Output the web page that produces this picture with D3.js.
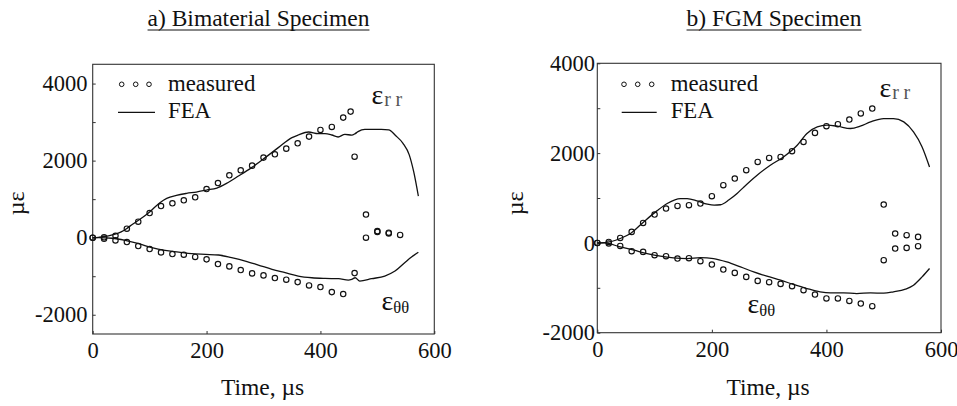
<!DOCTYPE html>
<html>
<head>
<meta charset="utf-8">
<script src="https://cdn.jsdelivr.net/npm/d3@7"></script>
<style>
  html, body { margin: 0; padding: 0; background: #fff; }
  svg { display: block; }
</style>
</head>
<body>
<svg id="chart" width="957" height="406"></svg>
<script>
// ---------------- DATA ----------------
// Panel a) Bimaterial specimen
const titleA = "a) Bimaterial Specimen";
const timeMeasA = [0,20,40,60,80,100,120,140,160,180,200,220,240,260,280,300,320,340,360,380,400,420,440,453,460];
const errMeasA  = [0,10,50,234,415,640,822,892,969,1047,1263,1419,1618,1748,1870,2078,2164,2311,2449,2623,2795,2873,3116,3272,2103];
const timeEthMeasA = [0,20,40,60,80,100,120,140,160,180,200,220,240,260,280,300,320,340,360,380,400,420,440,460];
const ethMeasA  = [0,-26,-70,-114,-218,-296,-382,-426,-442,-500,-563,-685,-745,-841,-927,-979,-1049,-1091,-1153,-1239,-1282,-1413,-1464,-920];
const timeAfterA = [480,480,500,500,520,520,540];
const afterMeasA = [600,0,170,150,130,110,70];
const timeFeaErrA = [0,10,20,36,50,60,70,83,100,118,130,147,165,182,200,218,235,256,279,303,326,350,361,379,396,408,420,431,443,455,461,466,478,490,507,520,532,545,556,564,572];
const feaErrA     = [0,10,25,78,150,240,350,476,666,909,1021,1099,1150,1185,1237,1289,1410,1600,1818,2078,2337,2597,2665,2743,2700,2700,2665,2613,2683,2660,2700,2752,2812,2812,2812,2800,2650,2450,2150,1700,1080];
const timeFeaEthA = [0,10,34,57,81,104,127,151,174,198,221,244,268,291,315,338,361,385,408,432,449,455,461,469,490,513,531,548,560,572];
const feaEthA     = [0,0,-15,-70,-156,-260,-330,-374,-416,-433,-450,-520,-607,-711,-823,-910,-996,-1040,-1057,-1065,-1100,-1080,-1040,-1126,-1065,-996,-867,-650,-500,-380];
const yTicksA = [-2000,-1000,0,1000,2000,3000,4000];
const yTickLabelsA = ["-2000","","0","","2000","","4000"];

// Panel b) FGM specimen
const titleB = "b) FGM Specimen";
const timeMeasB = [0,20,40,60,80,100,120,140,160,180,200,220,240,260,280,300,320,340,360,380,400,420,440,460,480];
const errMeasB  = [0,22,111,245,445,632,766,824,840,877,1040,1285,1434,1619,1804,1893,1915,2042,2249,2450,2599,2643,2748,2882,2993];
const ethMeasB  = [0,-13,-67,-185,-200,-274,-296,-348,-341,-408,-482,-593,-668,-757,-846,-875,-913,-964,-1053,-1150,-1238,-1238,-1292,-1350,-1410];
const timeAfterB = [500,500,520,520,540,540,560,560];
const afterMeasB = [855,-385,208,-125,171,-111,134,-74];
const timeFeaErrB = [0,12,40,58,81,104,122,145,157,174,192,204,215,230,244,256,279,302,325,349,366,384,401,419,442,459,477,500,517,535,552,567,580];
const feaErrB     = [0,5,98,209,468,713,877,988,985,935,862,840,850,960,1100,1247,1508,1730,1915,2176,2436,2583,2621,2599,2548,2599,2695,2770,2770,2695,2472,2138,1690];
const timeFeaEthB = [0,12,40,64,87,110,133,157,180,203,226,250,273,296,320,343,366,389,407,430,453,477,500,517,538,552,567,580];
const feaEthB     = [0,0,-89,-163,-237,-296,-334,-348,-326,-348,-423,-534,-646,-742,-831,-927,-1016,-1090,-1113,-1113,-1128,-1113,-1120,-1090,-1030,-942,-757,-570];
const yTicksB = [-2000,-1000,0,1000,2000,3000,4000];
const yTickLabelsB = ["-2000","","0","","2000","","4000"];

const xTicks = [0,200,400,600];
const xTickLabels = ["0","200","400","600"];
const xLabel = "Time, \u00b5s";
const yLabel = "\u00b5\u03b5";
const legendLabels = ["measured","FEA"];

// ---------------- DRAW ----------------
const serif = "'Liberation Serif','Times New Roman',serif";
const svg = d3.select("#chart");

const panels = [
  { title: titleA, titleX: 258.5, x0: 92.7, x1: 434.3, y0: 64.3, y1: 334, yDom: [-2500, 4500],
    tMeas: timeMeasA, err: errMeasA, tEth: timeEthMeasA, eth: ethMeasA, tAfter: timeAfterA, after: afterMeasA,
    tFeaErr: timeFeaErrA, feaErr: feaErrA, tFeaEth: timeFeaEthA, feaEth: feaEthA,
    yTicks: yTicksA, yTickLabels: yTickLabelsA, yPad: 5.2,
    ylabX: 24, xlabX: 262.5,
    leg: { c: [121.7, 135.7, 149], tx: 168, l0: 118, l1: 155 },
    rr: { x: 371.5, y: 104 }, th: { x: 381.5, y: 310 } },
  { title: titleB, titleX: 774, x0: 597.3, x1: 941, y0: 63.3, y1: 332.7, yDom: [-2000, 4000],
    tMeas: timeMeasB, err: errMeasB, tEth: timeMeasB, eth: ethMeasB, tAfter: timeAfterB, after: afterMeasB,
    tFeaErr: timeFeaErrB, feaErr: feaErrB, tFeaEth: timeFeaEthB, feaEth: feaEthB,
    yTicks: yTicksB, yTickLabels: yTickLabelsB, yPad: 2.3,
    ylabX: 522.5, xlabX: 768,
    leg: { c: [624, 637.7, 651.7], tx: 670.7, l0: 621.7, l1: 656.7 },
    rr: { x: 879.5, y: 96.5 }, th: { x: 747.5, y: 313 } }
];

panels.forEach(p => {
  const x = d3.scaleLinear().domain([0, 600]).range([p.x0, p.x1]);
  const y = d3.scaleLinear().domain(p.yDom).range([p.y1, p.y0]);
  const g = svg.append("g");

  // title with underline
  const t = g.append("text").attr("x", p.titleX).attr("y", 25.5)
    .attr("text-anchor", "middle").attr("font-family", serif).attr("font-size", 23.5)
    .attr("fill", "#111").text(p.title);
  const tw = t.node().getComputedTextLength();
  g.append("line").attr("x1", p.titleX - tw / 2).attr("x2", p.titleX + tw / 2)
    .attr("y1", 30).attr("y2", 30).attr("stroke", "#111").attr("stroke-width", 1.1);

  // frame
  g.append("rect").attr("x", p.x0).attr("y", p.y0).attr("width", p.x1 - p.x0).attr("height", p.y1 - p.y0)
    .attr("fill", "none").attr("stroke", "#333").attr("stroke-width", 1.1);

  // y axis (inside ticks)
  const ya = g.append("g").attr("transform", `translate(${p.x0},0)`)
    .call(d3.axisLeft(y).tickValues(p.yTicks).tickSizeInner(-3).tickSizeOuter(0).tickPadding(p.yPad)
      .tickFormat((d, i) => p.yTickLabels[i]));
  ya.select(".domain").remove();
  ya.selectAll("line").attr("stroke", "#333");
  ya.selectAll("text").attr("font-family", serif).attr("font-size", 22.5).attr("fill", "#111");

  // x axis
  const xa = g.append("g").attr("transform", `translate(0,${p.y1})`)
    .call(d3.axisBottom(x).tickValues(xTicks).tickSizeInner(-3).tickSizeOuter(0).tickPadding(8.5)
      .tickFormat((d, i) => xTickLabels[i]));
  xa.select(".domain").remove();
  xa.selectAll("line").attr("stroke", "#333");
  xa.selectAll("text").attr("font-family", serif).attr("font-size", 22.5).attr("fill", "#111");

  // axis titles
  g.append("text").attr("x", p.xlabX).attr("y", 395).attr("text-anchor", "middle")
    .attr("font-family", serif).attr("font-size", 23.5).attr("fill", "#111").text(xLabel);
  g.append("text").attr("transform", `translate(${p.ylabX},203.3) rotate(-90)`).attr("text-anchor", "middle")
    .attr("font-family", serif).attr("font-size", 24).attr("fill", "#111").text(yLabel);

  // FEA lines
  const line = d3.line().x(d => x(d[0])).y(d => y(d[1])).curve(d3.curveMonotoneX);
  [[p.tFeaErr, p.feaErr], [p.tFeaEth, p.feaEth]].forEach(([ts, vs]) => {
    g.append("path").datum(ts.map((tt, i) => [tt, vs[i]])).attr("d", line)
      .attr("fill", "none").attr("stroke", "#111").attr("stroke-width", 1.3);
  });

  // measured points
  const pts = [];
  p.tMeas.forEach((tt, i) => pts.push([tt, p.err[i]]));
  p.tEth.forEach((tt, i) => pts.push([tt, p.eth[i]]));
  p.tAfter.forEach((tt, i) => pts.push([tt, p.after[i]]));
  g.selectAll("circle.m").data(pts).enter().append("circle").attr("class", "m")
    .attr("cx", d => x(d[0])).attr("cy", d => y(d[1])).attr("r", 2.7)
    .attr("fill", "none").attr("stroke", "#111").attr("stroke-width", 1.15);

  // legend
  p.leg.c.forEach(cx => g.append("circle").attr("cx", cx).attr("cy", 84.3).attr("r", 2.3)
    .attr("fill", "none").attr("stroke", "#111").attr("stroke-width", 1));
  g.append("text").attr("x", p.leg.tx).attr("y", 90.7).attr("font-family", serif).attr("font-size", 22.8)
    .attr("fill", "#111").text(legendLabels[0]);
  g.append("line").attr("x1", p.leg.l0).attr("x2", p.leg.l1).attr("y1", 112.3).attr("y2", 112.3)
    .attr("stroke", "#111").attr("stroke-width", 1.2);
  g.append("text").attr("x", p.leg.tx).attr("y", 118).attr("font-family", serif).attr("font-size", 22.8)
    .attr("fill", "#111").text(legendLabels[1]);

  // curve labels
  const rr = g.append("text").attr("x", p.rr.x).attr("y", p.rr.y).attr("font-family", serif).attr("font-size", 28).attr("fill", "#111");
  rr.append("tspan").text("\u03b5");
  rr.append("tspan").attr("font-size", 20).attr("dx", 1).attr("dy", 2).attr("letter-spacing", 4.5).attr("fill", "#555").text("rr");
  const th = g.append("text").attr("x", p.th.x).attr("y", p.th.y).attr("font-family", serif).attr("font-size", 28).attr("fill", "#111");
  th.append("tspan").text("\u03b5");
  th.append("tspan").attr("font-size", 16.5).attr("dy", 2.5).text("\u03b8\u03b8");
});
</script>
</body>
</html>
